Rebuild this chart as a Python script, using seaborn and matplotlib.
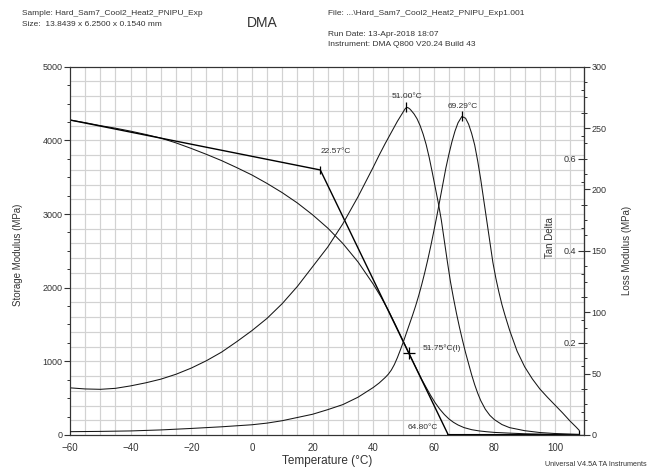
import matplotlib
matplotlib.use("Agg")
import numpy as np
import pandas as pd
import matplotlib.pyplot as plt
from matplotlib.ticker import MultipleLocator, FixedLocator
import seaborn as sns

# ----------------------------------------------------------------------
# Data
# ----------------------------------------------------------------------
storage_temp = [-60, -55, -50, -45, -40, -35, -30, -25, -20, -15, -10, -5, 0, 5,
                10, 15, 20, 25, 30, 35, 40, 42.5, 45, 47.5, 50, 51.75, 53, 54.5,
                56, 57.5, 59, 60.5, 62, 63.5, 65, 66.5, 68, 70, 72.5, 75, 77.5,
                80, 85, 90, 95, 100, 105, 108]
storage_mod = [4276, 4240, 4200, 4165, 4125, 4080, 4030, 3965, 3890, 3810, 3725,
               3630, 3530, 3415, 3290, 3150, 2990, 2810, 2600, 2350, 2050, 1880,
               1695, 1485, 1268, 1117, 1010, 883, 757, 645, 535, 435, 350, 278,
               218, 172, 136, 100, 72, 55, 44, 35, 25, 17, 12, 8, 5, 4]

loss_temp = [-60, -55, -50, -45, -40, -35, -30, -25, -20, -15, -10, -5, 0, 5, 10,
             15, 20, 25, 30, 35, 40, 42, 44, 45, 46, 47, 48, 49, 50, 50.5, 51,
             51.5, 52, 52.5, 53.5, 54.5, 55.5, 56.5, 57.5, 58.5, 59.5, 60.5,
             61.5, 62.5, 63.5, 64.5, 65.5, 66.5, 67.5, 68.5, 69.5, 70.5, 71.5,
             72.5, 73.5, 74.5, 75.5, 77, 78.5, 80, 82.5, 85, 90, 95, 100, 108]
loss_mod = [38.4, 37.5, 37.2, 38, 40, 42.5, 45.5, 49.5, 54.5, 60.5, 67.5, 76, 85,
            95, 107, 121, 137, 153, 172, 194, 218, 228, 237.5, 242, 246.5, 251,
            255.5, 259.5, 263.5, 265.5, 266.8, 266.6, 265.8, 264.5, 261.5, 257.5,
            252, 245, 236.5, 226, 214, 201.5, 189, 175, 158, 141, 125, 111.5,
            99, 87.5, 77, 67, 58, 49, 41, 34, 28, 21, 16, 12.5, 8.5, 6, 3.5, 2,
            1.2, 0.5]

tan_temp = [-60, -50, -40, -30, -20, -10, 0, 5, 10, 15, 20, 25, 30, 35, 40, 42,
            44, 45, 46, 47, 48, 49, 50, 51, 52, 53, 54, 55, 56, 57, 58, 59, 60,
            61, 62, 63, 64, 65, 66, 67, 68, 69.29, 70.5, 71.5, 72.5, 73.5, 74.5,
            75.5, 76.5, 77.5, 78.5, 79.5, 80.5, 81.5, 82.5, 83.5, 85, 87.5, 90,
            92.5, 95, 97.5, 100, 102.5, 105, 107, 108]
tan_delta = [0.0072, 0.0078, 0.0088, 0.011, 0.0142, 0.0178, 0.0222, 0.0258,
             0.031, 0.038, 0.045, 0.055, 0.066, 0.082, 0.103, 0.113, 0.125,
             0.132, 0.141, 0.153, 0.168, 0.185, 0.203, 0.222, 0.241, 0.26, 0.28,
             0.302, 0.326, 0.352, 0.38, 0.41, 0.442, 0.475, 0.51, 0.545, 0.58,
             0.61, 0.637, 0.66, 0.678, 0.692, 0.688, 0.675, 0.655, 0.63, 0.595,
             0.555, 0.51, 0.465, 0.42, 0.375, 0.34, 0.31, 0.283, 0.26, 0.228,
             0.182, 0.148, 0.122, 0.10, 0.082, 0.065, 0.048, 0.03, 0.017, 0.01]

# onset construction on the storage modulus
onset_temp = [-60, 22.57, 64.80]
onset_mod = [4276, 3598, 0]
base_temp = [64.80, 108]
base_mod = [0, 0]

loss_peak = (51.00, 266.8)
tan_peak = (69.29, 0.692)
inflection = (51.75, 1115)

# ----------------------------------------------------------------------
# Style
# ----------------------------------------------------------------------
sns.set_style("white")
plt.rcParams["font.family"] = ["Liberation Sans", "DejaVu Sans"]
txt = "#333333"
line_c = "#161616"

fig = plt.figure(figsize=(6.49, 4.70), dpi=100)
ax = fig.add_axes([0.1079, 0.0745, 0.7921, 0.7836])
ax_loss = ax.twinx()
ax_tan = ax.twinx()

ax.set_xlim(-60, 109.6)
ax.set_ylim(0, 5000)
ax_loss.set_ylim(0, 300)
ax_tan.set_ylim(0, 0.8)

# light grid, every 5 degC and every 200 MPa
for t in np.arange(-55, 110, 5):
    ax.axvline(t, color="#d2d2d2", lw=0.85, zorder=0)
for e in np.arange(200, 5000, 200):
    ax.axhline(e, color="#d2d2d2", lw=0.85, zorder=0)

# ----------------------------------------------------------------------
# Curves
# ----------------------------------------------------------------------
df_st = pd.DataFrame({"T": storage_temp, "E": storage_mod})
df_lo = pd.DataFrame({"T": loss_temp, "E": loss_mod})
df_tan = pd.DataFrame({"T": tan_temp, "tan": tan_delta})

sns.lineplot(data=df_st, x="T", y="E", ax=ax, color=line_c, lw=0.75,
             estimator=None, legend=False)
sns.lineplot(x=onset_temp, y=onset_mod, ax=ax, color="black", lw=1.0,
             estimator=None, legend=False)
sns.lineplot(x=base_temp, y=base_mod, ax=ax, color="black", lw=1.5,
             estimator=None, legend=False)
sns.lineplot(data=df_lo, x="T", y="E", ax=ax_loss, color=line_c, lw=0.75,
             estimator=None, legend=False)
sns.lineplot(data=df_tan, x="T", y="tan", ax=ax_tan, color=line_c, lw=0.75,
             estimator=None, legend=False)

# analysis markers
ax.plot(onset_temp[1], onset_mod[1], marker="|", color="black", ms=6, mew=0.9)
ax.plot(inflection[0], inflection[1], marker="+", color="black", ms=9, mew=0.9)
ax.plot(storage_temp[-1], 0, marker="+", color="black", ms=7, mew=0.9)
ax_loss.plot(loss_peak[0], loss_peak[1], marker="|", color="black", ms=7, mew=0.9)
ax_tan.plot(tan_peak[0], tan_peak[1], marker="|", color="black", ms=7, mew=0.9)

ann = dict(fontsize=6, color=txt)
ax.text(27.8, 3842, "22.57°C", ha="center", va="center", **ann)
ax.text(51.2, 4600, "51.00°C", ha="center", va="center", **ann)
ax.text(69.4, 4466, "69.29°C", ha="center", va="center", **ann)
ax.text(56.2, 1181, "51.75°C(I)", ha="left", va="center", **ann)
ax.text(61.5, 95, "64.80°C", ha="right", va="center", **ann)

# ----------------------------------------------------------------------
# Axes, ticks, labels
# ----------------------------------------------------------------------
for a in (ax, ax_loss, ax_tan):
    for s in a.spines.values():
        s.set_color("#333333")
        s.set_linewidth(0.8)

ax.xaxis.set_major_locator(FixedLocator([-60, -40, -20, 0, 20, 40, 60, 80, 100]))
ax.xaxis.set_minor_locator(MultipleLocator(5))
ax.yaxis.set_major_locator(MultipleLocator(1000))
ax.yaxis.set_minor_locator(MultipleLocator(250))
ax.tick_params(which="major", direction="out", length=4, width=0.8,
               colors="#333333", labelsize=7, labelcolor=txt, pad=1.5)
ax.tick_params(which="minor", direction="out", length=2.5, width=0.7,
               colors="#333333")
ax.tick_params(axis="y", labelsize=6.5)

ax_loss.yaxis.set_major_locator(MultipleLocator(50))
ax_loss.yaxis.set_minor_locator(MultipleLocator(12.5))
ax_loss.tick_params(which="major", direction="out", length=4, width=0.8,
                    colors="#333333", labelsize=6.5, labelcolor=txt, pad=1.5)
ax_loss.tick_params(which="minor", direction="out", length=2.5, width=0.7,
                    colors="#333333")

# tan delta scale sits on the right frame, ticks and labels inside the plot
ax_tan.yaxis.set_ticks_position("left")
ax_tan.yaxis.set_label_position("left")
ax_tan.spines["left"].set_position(("axes", 1.0))
for s in ("right", "top", "bottom"):
    ax_tan.spines[s].set_visible(False)
ax_tan.yaxis.set_major_locator(FixedLocator([0.2, 0.4, 0.6]))
ax_tan.yaxis.set_minor_locator(MultipleLocator(0.05))
ax_tan.tick_params(which="major", direction="out", length=4, width=0.8,
                   colors="#333333", labelsize=6.5, labelcolor=txt, pad=1.5)
ax_tan.tick_params(which="minor", direction="out", length=2.5, width=0.7,
                   colors="#333333")
ax_tan.set_yticklabels(["0.2", "0.4", "0.6"])

ax.set_xlabel("Temperature (°C)", fontsize=8.5, color=txt)
ax.xaxis.set_label_coords(0.5, -0.055)
ax.set_ylabel("Storage Modulus (MPa)", fontsize=7, color=txt)
ax.yaxis.set_label_coords(-0.092, 0.49)
ax_loss.set_ylabel("Loss Modulus (MPa)", fontsize=7, color=txt)
ax_loss.yaxis.set_label_coords(1.073, 0.5)
ax_tan.set_ylabel("Tan Delta", fontsize=7, color=txt)
ax_tan.yaxis.set_label_coords(0.944, 0.535)

# header / footer texts
fig.text(22 / 649, 1 - 13.5 / 470, "Sample: Hard_Sam7_Cool2_Heat2_PNIPU_Exp",
         fontsize=6, color=txt, ha="left", va="center")
fig.text(22 / 649, 1 - 24 / 470, "Size:  13.8439 x 6.2500 x 0.1540 mm",
         fontsize=6, color=txt, ha="left", va="center")
fig.text(262 / 649, 1 - 23 / 470, "DMA", fontsize=10, color=txt,
         ha="center", va="center")
fig.text(328 / 649, 1 - 13.5 / 470,
         "File: ...\\Hard_Sam7_Cool2_Heat2_PNIPU_Exp1.001",
         fontsize=6, color=txt, ha="left", va="center")
fig.text(328 / 649, 1 - 35 / 470, "Run Date: 13-Apr-2018 18:07",
         fontsize=6, color=txt, ha="left", va="center")
fig.text(328 / 649, 1 - 44.5 / 470, "Instrument: DMA Q800 V20.24 Build 43",
         fontsize=6, color=txt, ha="left", va="center")
fig.text(647 / 649, 1 - 464 / 470, "Universal V4.5A TA Instruments",
         fontsize=5.2, color=txt, ha="right", va="center")

fig.savefig("out.png", dpi=100)
